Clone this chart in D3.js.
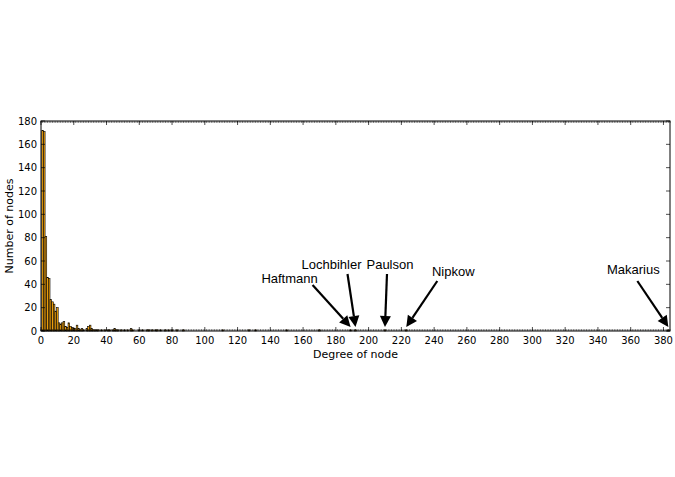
<!DOCTYPE html>
<html>
<head>
<meta charset="utf-8">
<script src="https://cdn.jsdelivr.net/npm/d3@7/dist/d3.min.js"></script>
<style>
  body { margin: 0; background: #fff; }
  svg { display: block; }
  .tick-label { font-family: "DejaVu Sans", sans-serif; font-size: 10px; fill: #000; }
  .axis-label { font-family: "DejaVu Sans", sans-serif; font-size: 11px; fill: #000; }
  .annot { font-family: "Liberation Sans", Arial, sans-serif; font-size: 13px; fill: #000; }
</style>
</head>
<body>
<div id="chart"></div>
<script>
// degree of node -> number of nodes with that degree
var degrees = [1, 2, 3, 4, 5, 6, 7, 8, 9, 10, 11, 12, 13, 14, 15, 16, 17, 18, 19, 20,
  21, 22, 23, 24, 25, 26, 28, 29, 30, 31, 32, 33, 34, 35, 37, 39, 41, 42, 44, 45,
  46, 47, 49, 51, 53, 55, 56, 60, 62, 65, 66, 68, 70, 71, 73, 76, 78, 80, 83, 87,
  111, 127, 131, 150, 170, 189, 192, 210, 223, 383];
var counts = [172, 171, 81, 46, 45, 27, 25, 23, 17, 20, 7, 6, 7, 8, 4, 3, 7, 4, 3, 2,
  2, 5, 2, 1, 2, 1, 2, 4, 5, 2, 1, 1, 1, 1, 1, 1, 1, 1, 1, 2,
  1, 1, 1, 1, 1, 2, 1, 1, 1, 1, 1, 1, 1, 1, 1, 1, 1, 1, 1, 1,
  1, 1, 1, 1, 1, 1, 1, 1, 1, 1];

var xTicks = d3.range(0, 381, 20);
var yTicks = d3.range(0, 181, 20);

var annotNames = ["Haftmann", "Lochbihler", "Paulson", "Nipkow", "Makarius"];
var annotDegrees = [189, 192, 210, 223, 383];

// label / arrow-tail offsets from the arrow tip, in px
var annotLayout = [
  { tx: -61, ty: -44, ax: -38, ay: -42 },
  { tx: -24, ty: -58, ax: -8, ay: -53 },
  { tx: 5, ty: -58, ax: 2, ay: -53 },
  { tx: 47, ty: -51, ax: 31, ay: -46 },
  { tx: -35, ty: -53, ax: -31, ay: -46 }
];

var margin = { top: 121, right: 5, bottom: 146, left: 41 };
var W = 675, H = 477;
var width = W - margin.left - margin.right;
var height = H - margin.top - margin.bottom;

var svg = d3.select('#chart').append('svg')
  .attr('width', W)
  .attr('height', H)
  .append('g')
  .attr('transform', 'translate(' + margin.left + ',' + margin.top + ')');

var x = d3.scaleLinear().domain([0, 384]).range([0, width]);
var y = d3.scaleLinear().domain([0, 180]).range([height, 0]);

var data = degrees.map(function(d, i) { return { degree: d, count: counts[i] }; });

svg.selectAll('.bar')
  .data(data)
  .enter()
  .append('rect')
  .attr('class', 'bar')
  .attr('x', function(d) { return x(d.degree - 0.5); })
  .attr('width', function(d) { return x(1) - x(0); })
  .attr('y', function(d) { return y(d.count); })
  .attr('height', function(d) { return height - y(d.count); })
  .attr('fill', '#f2a20c')
  .attr('stroke', '#000')
  .attr('stroke-width', 0.6);

// minor ticks, one per bin, top and bottom
var minor = d3.range(0, 385, 1);
svg.selectAll('.minor-b').data(minor).enter().append('line')
  .attr('x1', function(d) { return x(d); }).attr('x2', function(d) { return x(d); })
  .attr('y1', height).attr('y2', height - 2)
  .attr('stroke', '#000').attr('stroke-width', 0.5);
svg.selectAll('.minor-t').data(minor).enter().append('line')
  .attr('x1', function(d) { return x(d); }).attr('x2', function(d) { return x(d); })
  .attr('y1', 0).attr('y2', 2)
  .attr('stroke', '#000').attr('stroke-width', 0.5);

// major ticks
svg.selectAll('.xmaj-b').data(xTicks).enter().append('line')
  .attr('x1', function(d) { return x(d); }).attr('x2', function(d) { return x(d); })
  .attr('y1', height).attr('y2', height - 4)
  .attr('stroke', '#000').attr('stroke-width', 0.7);
svg.selectAll('.xmaj-t').data(xTicks).enter().append('line')
  .attr('x1', function(d) { return x(d); }).attr('x2', function(d) { return x(d); })
  .attr('y1', 0).attr('y2', 4)
  .attr('stroke', '#000').attr('stroke-width', 0.7);
svg.selectAll('.ymaj-l').data(yTicks).enter().append('line')
  .attr('x1', 0).attr('x2', 4)
  .attr('y1', function(d) { return y(d); }).attr('y2', function(d) { return y(d); })
  .attr('stroke', '#000').attr('stroke-width', 0.7);
svg.selectAll('.ymaj-r').data(yTicks).enter().append('line')
  .attr('x1', width).attr('x2', width - 4)
  .attr('y1', function(d) { return y(d); }).attr('y2', function(d) { return y(d); })
  .attr('stroke', '#000').attr('stroke-width', 0.7);

// frame
svg.append('rect')
  .attr('x', 0).attr('y', 0)
  .attr('width', width).attr('height', height)
  .attr('fill', 'none').attr('stroke', '#000').attr('stroke-width', 1);

// tick labels
svg.selectAll('.xlab').data(xTicks).enter().append('text')
  .attr('class', 'tick-label')
  .attr('x', function(d) { return x(d); })
  .attr('y', height + 13)
  .attr('text-anchor', 'middle')
  .text(function(d) { return d; });
svg.selectAll('.ylab').data(yTicks).enter().append('text')
  .attr('class', 'tick-label')
  .attr('x', -4)
  .attr('y', function(d) { return y(d) + 3.5; })
  .attr('text-anchor', 'end')
  .text(function(d) { return d; });

svg.append('text')
  .attr('class', 'axis-label')
  .attr('x', width / 2)
  .attr('y', height + 27)
  .attr('text-anchor', 'middle')
  .text('Degree of node');

svg.append('text')
  .attr('class', 'axis-label')
  .attr('transform', 'translate(' + (-28) + ',' + (height / 2) + ') rotate(-90)')
  .attr('text-anchor', 'middle')
  .text('Number of nodes');

// annotations
function arrow(g, x0, y0, x1, y1) {
  var dx = x1 - x0, dy = y1 - y0;
  var len = Math.sqrt(dx * dx + dy * dy);
  var ux = dx / len, uy = dy / len;
  var headL = 11, headW = 5.5;
  var bx = x1 - ux * headL, by = y1 - uy * headL;
  g.append('line')
    .attr('x1', x0).attr('y1', y0).attr('x2', bx).attr('y2', by)
    .attr('stroke', '#000').attr('stroke-width', 2.2);
  g.append('path')
    .attr('d', 'M' + x1 + ',' + y1 +
      'L' + (bx - uy * headW) + ',' + (by + ux * headW) +
      'L' + (bx + uy * headW) + ',' + (by - ux * headW) + 'Z')
    .attr('fill', '#000');
}

var annots = svg.append('g');
annotNames.forEach(function(name, i) {
  var tipX = x(annotDegrees[i]);
  var tipY = y(0) - 4;
  var l = annotLayout[i];
  arrow(annots, tipX + l.ax, tipY + l.ay, tipX, tipY);
  annots.append('text')
    .attr('class', 'annot')
    .attr('x', tipX + l.tx)
    .attr('y', tipY + l.ty)
    .attr('text-anchor', 'middle')
    .text(name);
});
</script>
</body>
</html>
